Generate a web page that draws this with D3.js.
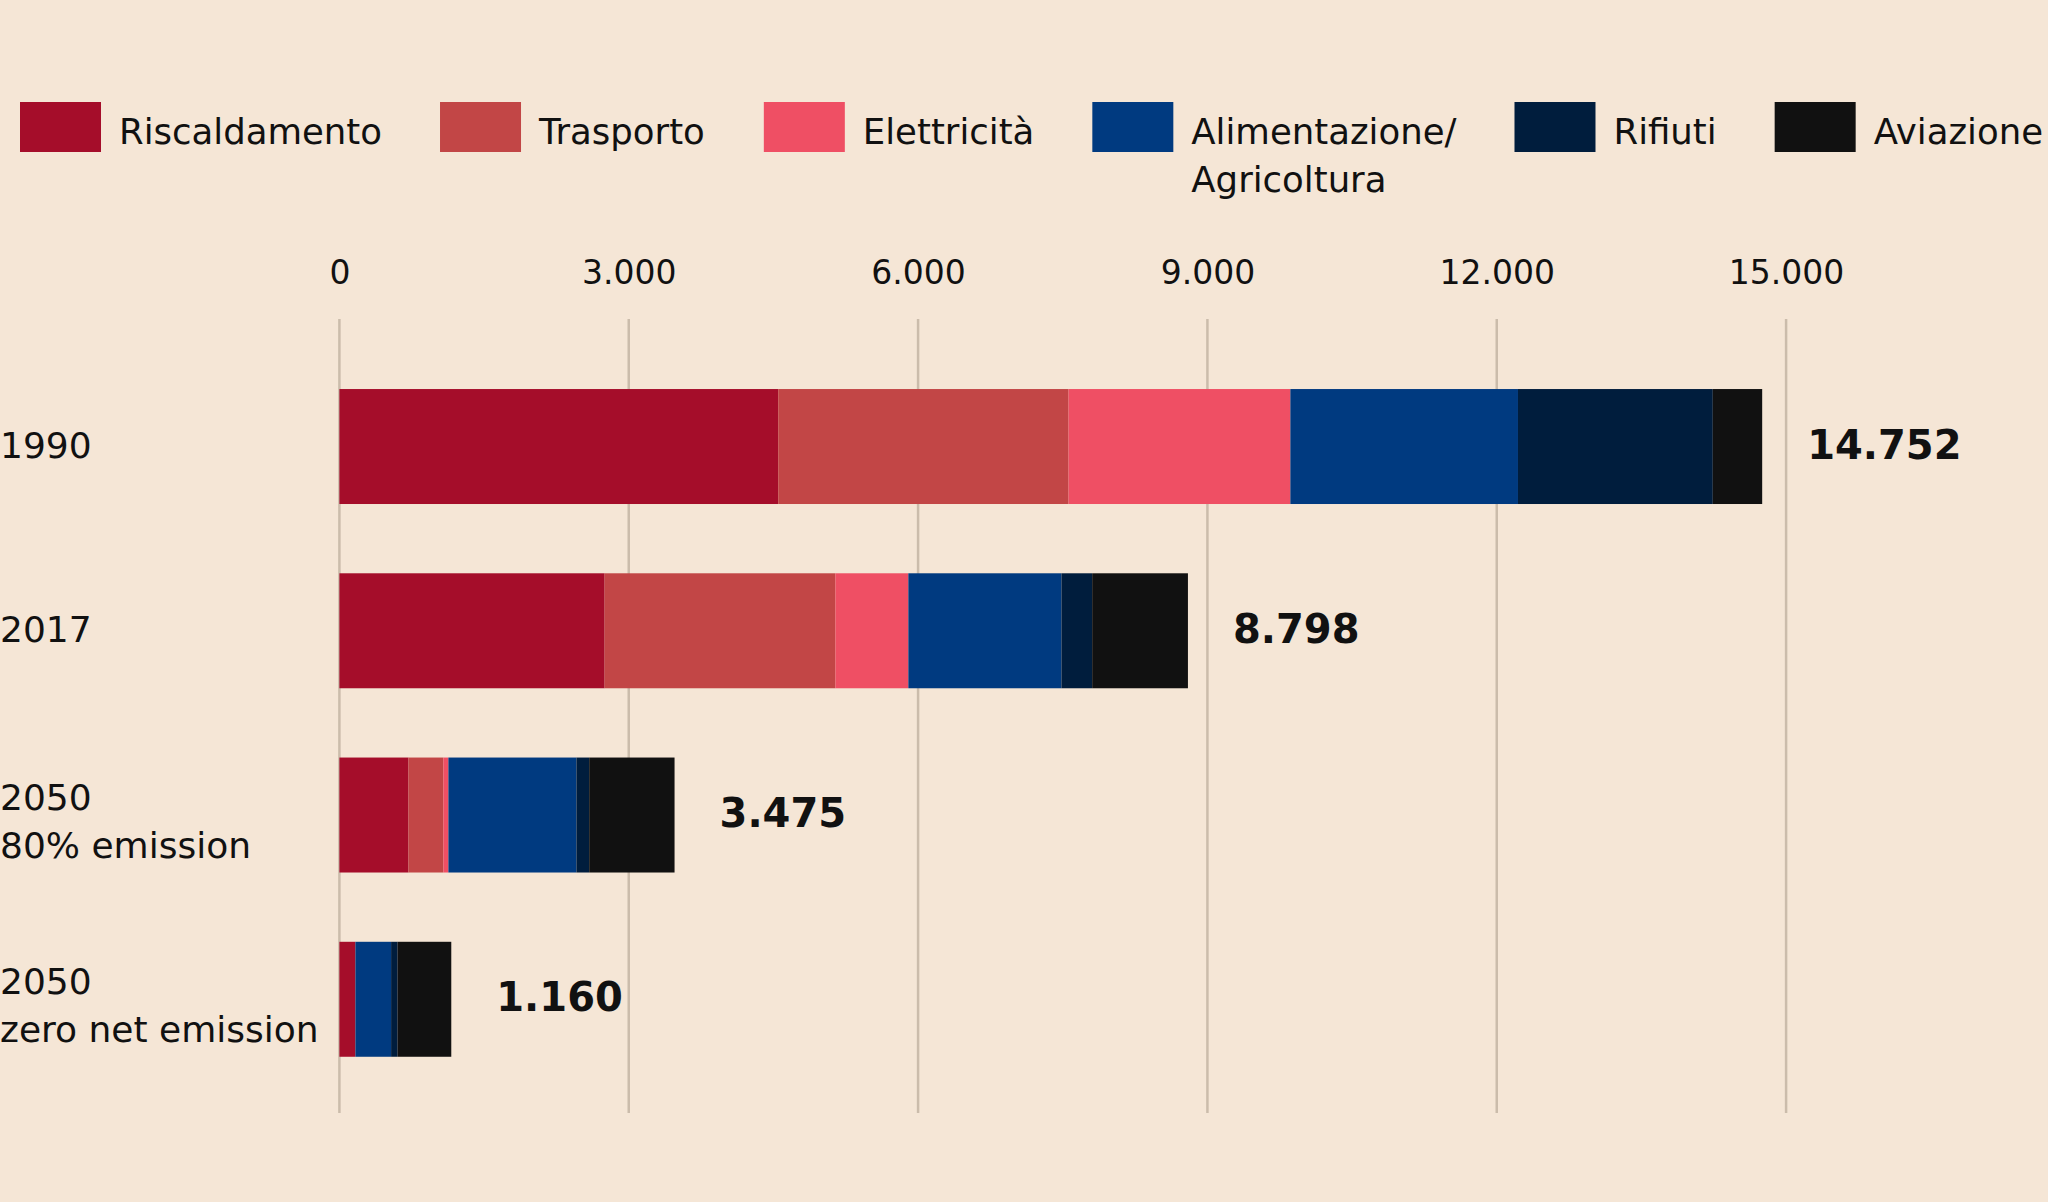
<!DOCTYPE html>
<html>
<head>
<meta charset="utf-8">
<script src="https://cdn.jsdelivr.net/npm/d3@7"></script>
<style>
  html, body { margin: 0; padding: 0; background: #f5e6d6; }
  svg { display: block; font-family: "DejaVu Sans", sans-serif; }
</style>
</head>
<body>
<div id="grafico"></div>
<script>
// categorie (righe) e serie
const categorie = ["1990", "2017", "2050\n80% emission", "2050\nzero net emission"];
const serie = ["Riscaldamento", "Trasporto", "Elettricità", "Alimentazione/\nAgricoltura", "Rifiuti", "Aviazione"];
const colori = ["#a50d2a", "#c24646", "#ef4f64", "#003a80", "#001d3d", "#111111"];

const riscaldamento = [4550, 2750, 716, 166];
const trasporto     = [3010, 2393, 362, 0];
const elettricita   = [2300, 756, 52, 0];
const alimentazione = [2360, 1588, 1328, 370];
const rifiuti       = [2020, 318, 132, 68];
const aviazione     = [512, 993, 885, 556];
const totali        = [14752, 8798, 3475, 1160];

const tickValori = [0, 3000, 6000, 9000, 12000, 15000];

const larghezza = 2048, altezza = 1202;

// formato italiano: 3.000
const locale = d3.formatLocale({decimal: ",", thousands: ".", grouping: [3], currency: ["€", ""]});
const fmt = locale.format(",d");

const righe = categorie.map((c, i) => ({
  cat: c,
  "Riscaldamento": riscaldamento[i],
  "Trasporto": trasporto[i],
  "Elettricità": elettricita[i],
  "Alimentazione/\nAgricoltura": alimentazione[i],
  "Rifiuti": rifiuti[i],
  "Aviazione": aviazione[i],
  totale: totali[i]
}));

const svg = d3.select("#grafico").append("svg")
  .attr("width", larghezza).attr("height", altezza);

svg.append("rect").attr("width", larghezza).attr("height", altezza).attr("fill", "#f5e6d6");

const x = d3.scaleLinear().domain([0, 15000]).range([339.4, 1786.1]);
const y = d3.scaleBand().domain(categorie).range([354.4, 1091.4]).paddingInner(0.376).paddingOuter(0.188);
const colore = d3.scaleOrdinal().domain(serie).range(colori);

// griglia verticale
svg.append("g").selectAll("line").data(tickValori).join("line")
  .attr("x1", d => x(d)).attr("x2", d => x(d))
  .attr("y1", 319).attr("y2", 1113)
  .attr("stroke", "#cbbcab").attr("stroke-width", 2.5);

// etichette asse in alto
const asse = svg.append("g")
  .attr("transform", "translate(0,284)")
  .call(d3.axisTop(x).tickValues(tickValori).tickFormat(fmt).tickSize(0).tickPadding(0));
asse.select(".domain").remove();
asse.selectAll("text")
  .attr("font-family", "DejaVu Sans").attr("font-size", 33).attr("fill", "#111")
  .attr("dy", 0);

// barre impilate
const stack = d3.stack().keys(serie)(righe);
svg.append("g").selectAll("g").data(stack).join("g")
  .attr("fill", d => colore(d.key))
  .selectAll("rect").data(d => d).join("rect")
  .attr("x", d => x(d[0]))
  .attr("width", d => Math.max(0, x(d[1]) - x(d[0])))
  .attr("y", d => y(d.data.cat))
  .attr("height", y.bandwidth());

// etichette categorie
const etichette = svg.append("g").selectAll("text").data(categorie).join("text")
  .attr("x", 0)
  .attr("font-size", 36).attr("fill", "#111");
etichette.each(function(c) {
  const linee = c.split("\n");
  const centro = y(c) + y.bandwidth() / 2;
  const t = d3.select(this);
  if (linee.length == 1) {
    t.append("tspan").attr("x", 0).attr("y", centro + 11).text(linee[0]);
  } else {
    linee.forEach((l, k) => {
      t.append("tspan").attr("x", 0).attr("y", centro - 5 + k * 48).text(l);
    });
  }
});

// totali
svg.append("g").selectAll("text").data(righe).join("text")
  .attr("x", d => x(d.totale) + 45)
  .attr("y", d => y(d.cat) + y.bandwidth() / 2 + 12)
  .attr("font-size", 40).attr("font-weight", "bold").attr("fill", "#111")
  .text(d => fmt(d.totale));

// legenda (flusso orizzontale)
const legenda = svg.append("g");
let posX = 20;
serie.forEach((s, i) => {
  legenda.append("rect")
    .attr("x", posX).attr("y", 102).attr("width", 81).attr("height", 50)
    .attr("fill", colore(s));
  const testo = legenda.append("text")
    .attr("font-size", 35.5).attr("fill", "#111");
  s.split("\n").forEach((l, k) => {
    testo.append("tspan").attr("x", posX + 99).attr("y", 144 + k * 48).text(l);
  });
  const w = testo.node().getBBox().width;
  posX = posX + 99 + w + 58;
});
</script>
</body>
</html>
